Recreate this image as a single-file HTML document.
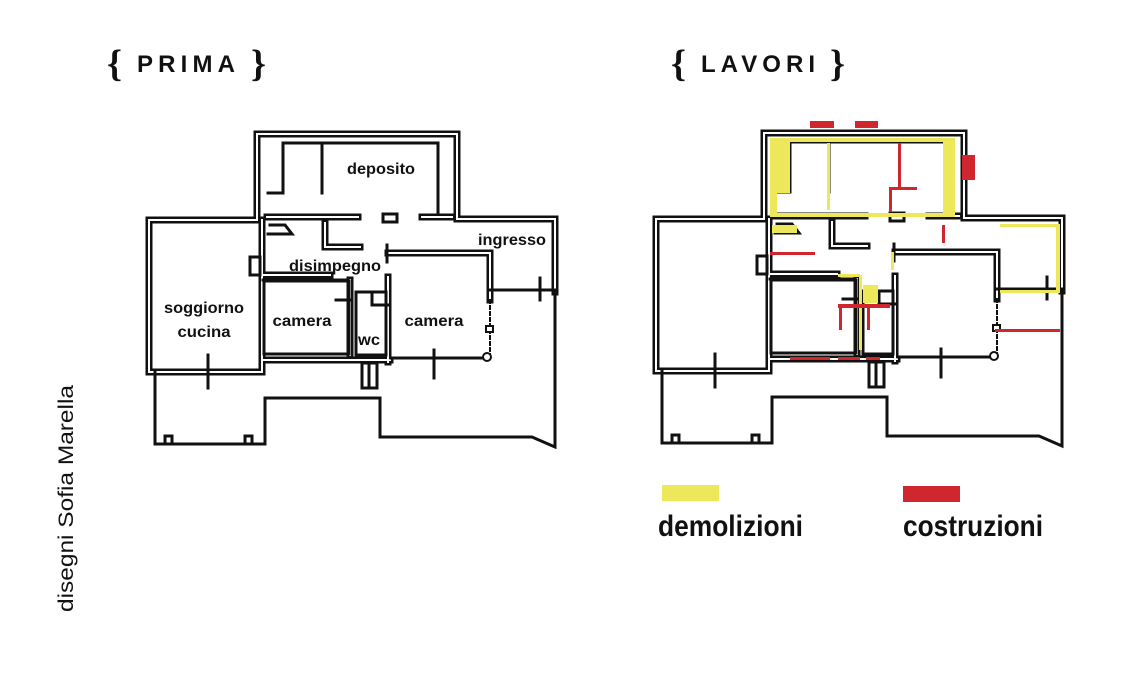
<!DOCTYPE html>
<html><head><meta charset="utf-8">
<style>
html,body{margin:0;padding:0;background:#fff;}
body{width:1140px;height:680px;overflow:hidden;position:relative;font-family:"Liberation Sans",sans-serif;}
svg{position:absolute;left:0;top:0;}
.lbl{font-family:"Liberation Sans",sans-serif;font-weight:bold;font-size:16px;fill:#111;}
.head{font-family:"Liberation Sans",sans-serif;font-weight:bold;font-size:24px;fill:#111;}
.brace{font-family:"Liberation Serif",serif;font-size:38px;font-weight:bold;fill:#111;}
.leg{font-family:"Liberation Sans",sans-serif;font-weight:bold;font-size:30px;fill:#111;}
</style></head><body>
<svg width="1140" height="680" viewBox="0 0 1140 680">
<defs>
<g id="plan" fill="none" stroke-linejoin="miter" stroke-linecap="square">
  <g stroke="#111" stroke-width="7">
    <polyline points="257,220 257,134 457,134 457,219 555,219 555,292"/>
    <polyline points="257,220 149,220 149,372 262,372"/>
    <line x1="262" y1="220" x2="262" y2="372"/>
    <polyline points="267,217 358,217"/>
    <polyline points="422,217 452,217"/>
    <polyline points="262,275 330,275"/>
    <polyline points="263,360 390,360"/>
    <polyline points="388,277 388,362"/>
    <polyline points="388,253 490,253 490,300"/>
    <line x1="350" y1="280" x2="350" y2="355"/>
    <polyline points="325,223 325,247 360,247"/>
  </g>
  <g stroke="#fff" stroke-width="2">
    <polyline points="257,220 257,134 457,134 457,219 555,219 555,292"/>
    <polyline points="257,220 149,220 149,372 262,372"/>
    <line x1="262" y1="220" x2="262" y2="372"/>
    <polyline points="267,217 358,217"/>
    <polyline points="422,217 452,217"/>
    <polyline points="262,275 330,275"/>
    <polyline points="263,360 390,360"/>
    <polyline points="388,277 388,362"/>
    <polyline points="388,253 490,253 490,300"/>
    <line x1="350" y1="280" x2="350" y2="355"/>
    <polyline points="325,223 325,247 360,247"/>
  </g>
  <g stroke="#111" stroke-width="3">
    <polyline points="268,193 283,193 283,143 438,143 438,213"/>
    <line x1="322" y1="145" x2="322" y2="193"/>
    <rect x="383" y="214" width="14" height="8"/>
    <polyline points="268,234 292,234 285,225 270,225"/>
    <rect x="250" y="257" width="10" height="18"/>
    <polyline points="263,280 348,280"/>
    <rect x="264" y="281" width="85" height="73"/>
    <polyline points="336,300 350,300"/>
    <polyline points="356,292 372,292 372,305 388,305"/>
    <rect x="356" y="292" width="30" height="63"/>
    <line x1="387" y1="245" x2="387" y2="262"/>
    <polyline points="490,290 555,290"/>
    <line x1="540" y1="278" x2="540" y2="300"/>
    <line x1="208" y1="355" x2="208" y2="388"/>
    <line x1="434" y1="350" x2="434" y2="378"/>
    <line x1="391" y1="358" x2="488" y2="358"/>
    <polyline points="155,372 155,444 265,444 265,398 380,398 380,437 532,437 555,447 555,292"/>
    <rect x="165" y="436" width="7" height="8"/>
    <rect x="245" y="436" width="7" height="8"/>
    <rect x="362" y="363" width="15" height="25"/>
    <line x1="369" y1="363" x2="369" y2="388"/>
  </g>
  <g stroke="#111" stroke-width="2" stroke-dasharray="3,3">
    <line x1="490" y1="300" x2="490" y2="358"/>
  </g>
  <rect x="486" y="326" width="7" height="6" fill="#fff" stroke="#111" stroke-width="2"/>
  <circle cx="487" cy="357" r="4" fill="#fff" stroke="#111" stroke-width="2"/>
</g>
</defs>

<use href="#plan"/>
<use href="#plan" transform="translate(507,-1)"/>

<text class="lbl" x="381" y="174" text-anchor="middle" textLength="68" lengthAdjust="spacingAndGlyphs">deposito</text>
<text class="lbl" x="512" y="245" text-anchor="middle" textLength="68" lengthAdjust="spacingAndGlyphs">ingresso</text>
<text class="lbl" x="335" y="271" text-anchor="middle" textLength="92" lengthAdjust="spacingAndGlyphs">disimpegno</text>
<text class="lbl" x="204" y="313" text-anchor="middle" textLength="80" lengthAdjust="spacingAndGlyphs">soggiorno</text>
<text class="lbl" x="204" y="337" text-anchor="middle" textLength="53" lengthAdjust="spacingAndGlyphs">cucina</text>
<text class="lbl" x="302" y="326" text-anchor="middle" textLength="59" lengthAdjust="spacingAndGlyphs">camera</text>
<text class="lbl" x="369" y="345" text-anchor="middle" textLength="22" lengthAdjust="spacingAndGlyphs">wc</text>
<text class="lbl" x="434" y="326" text-anchor="middle" textLength="59" lengthAdjust="spacingAndGlyphs">camera</text>

<g fill="#ede85a">
  <rect x="770" y="140" width="20" height="53"/>
  <rect x="770" y="140" width="7" height="77"/>
  <rect x="770" y="138" width="185" height="4"/>
  <rect x="943" y="140" width="12" height="77"/>
  <rect x="827" y="143" width="3" height="67"/>
  <rect x="770" y="213" width="185" height="4"/>
  <rect x="772" y="225" width="25" height="8"/>
  <rect x="1000" y="224" width="60" height="3"/>
  <rect x="1056" y="224" width="4" height="68"/>
  <rect x="1000" y="290" width="60" height="3"/>
  <rect x="891" y="252" width="3" height="18"/>
  <rect x="859" y="275" width="3" height="75"/>
  <rect x="838" y="274" width="22" height="3"/>
  <rect x="863" y="285" width="15" height="18"/>
</g>
<g fill="#d0262e">
  <rect x="810" y="121" width="24" height="7"/>
  <rect x="855" y="121" width="23" height="7"/>
  <rect x="898" y="143" width="3" height="47"/>
  <rect x="890" y="187" width="27" height="3"/>
  <rect x="889" y="187" width="3" height="25"/>
  <rect x="962" y="155" width="13" height="25"/>
  <rect x="942" y="225" width="3" height="18"/>
  <rect x="995" y="329" width="65" height="3"/>
  <rect x="770" y="252" width="45" height="3"/>
  <rect x="838" y="304" width="52" height="4"/>
  <rect x="839" y="304" width="3" height="26"/>
  <rect x="867" y="304" width="3" height="26"/>
  <rect x="790" y="357" width="40" height="3"/>
  <rect x="838" y="357" width="22" height="3"/>
  <rect x="866" y="357" width="14" height="3"/>
</g>

<text class="brace" x="107" y="76">{</text>
<text class="head" x="137" y="72" textLength="98" lengthAdjust="spacing">PRIMA</text>
<text class="brace" x="251" y="76">}</text>
<text class="brace" x="671" y="76">{</text>
<text class="head" x="701" y="72" textLength="114" lengthAdjust="spacing">LAVORI</text>
<text class="brace" x="830" y="76">}</text>

<rect x="662" y="485" width="57" height="16" fill="#ede85a"/>
<rect x="903" y="486" width="57" height="16" fill="#d0262e"/>
<text class="leg" x="658" y="536" textLength="145" lengthAdjust="spacingAndGlyphs">demolizioni</text>
<text class="leg" x="903" y="536" textLength="140" lengthAdjust="spacingAndGlyphs">costruzioni</text>

<text x="0" y="0" transform="translate(73,612) rotate(-90)" textLength="227" lengthAdjust="spacingAndGlyphs" style="font-family:'Liberation Sans',sans-serif;font-size:21px;fill:#111;">disegni Sofia Marella</text>
</svg>
</body></html>
